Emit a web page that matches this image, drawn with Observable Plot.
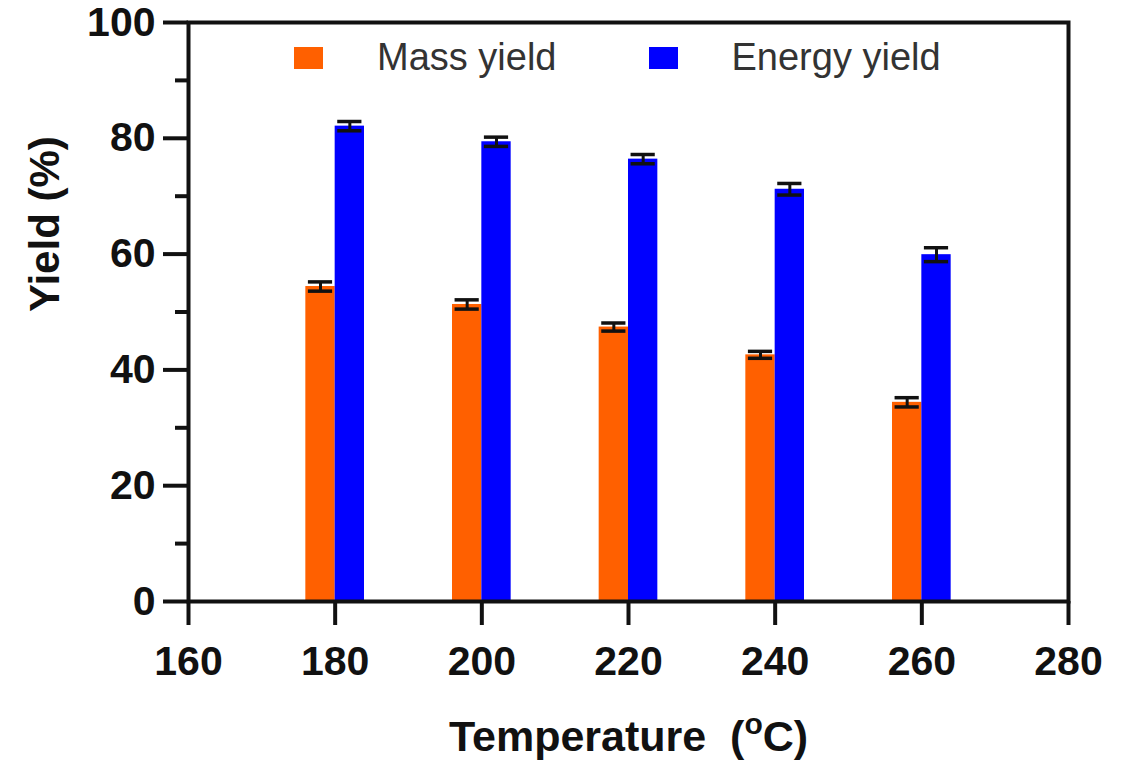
<!DOCTYPE html>
<html>
<head>
<meta charset="utf-8">
<script src="https://cdn.jsdelivr.net/npm/d3@7"></script>
<script src="https://cdn.jsdelivr.net/npm/@observablehq/plot@0.6"></script>
<style>
  html, body { margin: 0; padding: 0; background: #fff; }
  #wrap { position: relative; width: 1132px; height: 760px; font-family: "Liberation Sans", Arial, sans-serif; }
  #legend { position: absolute; left: 294px; top: 36px; }
  #legend .lg-swatches { font-family: "Liberation Sans", Arial, sans-serif !important; font-size: 38px !important; color: #333 !important; min-height: 0 !important; margin: 0 !important; }
  #legend .lg-swatch { margin-right: 0 !important; line-height: 1.15; }
  #legend .lg-swatch > svg { margin-right: 54px !important; }
  #legend .lg-swatch + .lg-swatch { margin-left: 92px !important; }
</style>
</head>
<body>
<div id="wrap"><div id="legend"></div></div>
<script>
// ---- data ----
const temperatures = [180, 200, 220, 240, 260];
const massYield = [54.4, 51.3, 47.4, 42.6, 34.4];
const massErr = [0.8, 0.8, 0.7, 0.6, 0.8];
const energyYield = [82.1, 79.4, 76.4, 71.2, 59.9];
const energyErr = [0.8, 0.8, 0.8, 1.0, 1.2];
const seriesNames = ["Mass yield", "Energy yield"];
const seriesColors = ["#ff6000", "#0000ff"];
const xTicks = [160, 180, 200, 220, 240, 260, 280];
const yTicks = [0, 20, 40, 60, 80, 100];
const yMinorTicks = [10, 30, 50, 70, 90];
const xTitle = "Temperature  (oC)";
const yTitle = "Yield (%)";

// layout constants
const barWidth = 4;   // in °C units
const capHalf = 1.65; // in °C units

const rows = [];
temperatures.forEach((t, i) => {
  rows.push({series: seriesNames[0], x1: t - barWidth, x2: t, value: massYield[i], err: massErr[i]});
  rows.push({series: seriesNames[1], x1: t, x2: t + barWidth, value: energyYield[i], err: energyErr[i]});
});
rows.forEach(d => { d.xc = (d.x1 + d.x2) / 2; });

const font = "'Liberation Sans', Arial, sans-serif";

const svg = Plot.plot({
  width: 1132,
  height: 760,
  marginLeft: 188,
  marginRight: 64,
  marginTop: 22,
  marginBottom: 159,
  style: {fontFamily: font, background: "#fff", color: "#111"},
  x: {domain: [160, 280]},
  y: {domain: [0, 100]},
  color: {domain: seriesNames, range: seriesColors},
  marks: [
    Plot.rectY(rows, {x1: "x1", x2: "x2", y1: 0, y2: "value", fill: "series"}),
    Plot.ruleX(rows, {x: "xc", y1: d => d.value - d.err, y2: d => d.value + d.err, stroke: "#111", strokeWidth: 3}),
    Plot.ruleY(rows, {y: d => d.value + d.err, x1: d => d.xc - capHalf, x2: d => d.xc + capHalf, stroke: "#111", strokeWidth: 3.5}),
    Plot.ruleY(rows, {y: d => d.value - d.err, x1: d => d.xc - capHalf, x2: d => d.xc + capHalf, stroke: "#111", strokeWidth: 3.5}),
    Plot.axisY({ticks: yMinorTicks, tickSize: 13, strokeWidth: 4, tickFormat: () => "", label: null}),
    Plot.axisY({ticks: yTicks, tickSize: 25, tickPadding: 8, strokeWidth: 4, fontSize: 41, fontWeight: "bold", label: null}),
    Plot.axisX({ticks: xTicks, tickSize: 24, tickPadding: 20, strokeWidth: 4, fontSize: 41, fontWeight: "bold", label: null, tickFormat: d => String(d)}),
    Plot.frame({stroke: "#111", strokeWidth: 4}),
    Plot.text([xTitle], {frameAnchor: "bottom", dy: 149, lineAnchor: "bottom", fontSize: 43, fontWeight: "bold", fill: "#111"}),
    Plot.text([yTitle], {frameAnchor: "left", dx: -130, rotate: -90, lineAnchor: "bottom", fontSize: 42, fontWeight: "bold", fill: "#111"})
  ]
});

// superscript "o" in x title
d3.select(svg).selectAll("text").filter(function() { return this.textContent === xTitle; }).each(function() {
  const t = d3.select(this);
  t.text(null).style("white-space", "pre");
  t.append("tspan").text("Temperature  (");
  t.append("tspan").attr("dy", "-17").attr("font-size", 30).text("o");
  t.append("tspan").attr("dy", "17").text("C)");
});

document.getElementById("wrap").appendChild(svg);

const legend = Plot.legend({
  color: {domain: seriesNames, range: seriesColors},
  className: "lg",
  swatchWidth: 29,
  swatchHeight: 22
});
document.getElementById("legend").appendChild(legend);
</script>
</body>
</html>
